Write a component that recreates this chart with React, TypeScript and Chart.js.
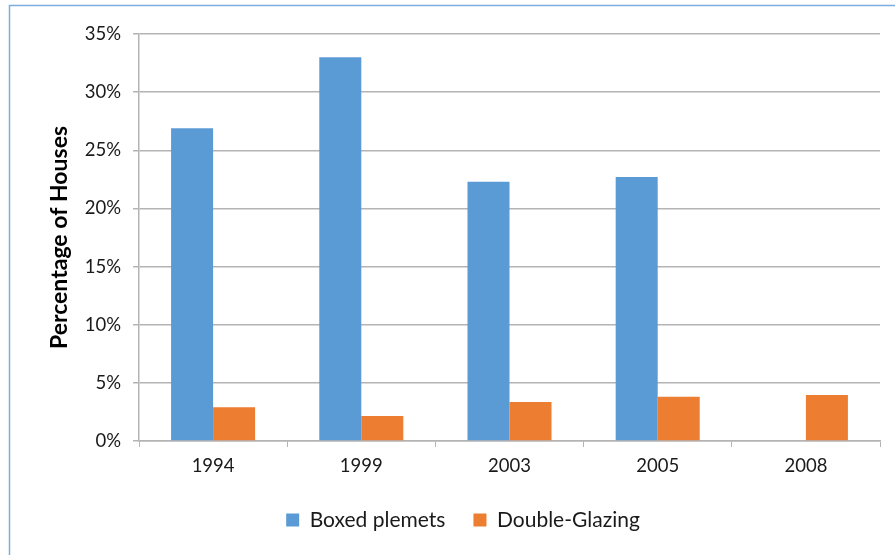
import React, { useEffect, useRef } from "react";
import { Chart, registerables } from "chart.js";

Chart.register(...registerables);

const years = ["1994", "1999", "2003", "2005", "2008"];
const boxedPlemets = [26.9, 33.0, 22.3, 22.7, null];
const doubleGlazing = [2.9, 2.15, 3.35, 3.8, 3.95];
const yTicks = [0, 5, 10, 15, 20, 25, 30, 35];

const FONT = "Lato, 'Open Sans', sans-serif";
const GRID = "#b4b4b4";
const TEXT = "#1a1a1a";

// Thin blue frame along the top and left edges of the chart box
const framePlugin = {
  id: "frame",
  beforeDraw(chart: Chart) {
    const ctx = chart.ctx;
    ctx.save();
    ctx.strokeStyle = "#7aaee0";
    ctx.lineWidth = 1.5;
    ctx.beginPath();
    ctx.moveTo(9.5, chart.height);
    ctx.lineTo(9.5, 5.5);
    ctx.lineTo(chart.width, 5.5);
    ctx.stroke();
    ctx.restore();
  },
};

export default function App() {
  const ref = useRef<HTMLCanvasElement>(null);

  useEffect(() => {
    if (!ref.current) return;
    const chart = new Chart(ref.current, {
      type: "bar",
      data: {
        labels: years,
        datasets: [
          {
            label: "Boxed plemets",
            data: boxedPlemets,
            backgroundColor: "#5b9bd5",
            categoryPercentage: 0.567,
            barPercentage: 1,
          },
          {
            label: "Double-Glazing",
            data: doubleGlazing,
            backgroundColor: "#ed7d31",
            categoryPercentage: 0.567,
            barPercentage: 1,
          },
        ],
      },
      options: {
        animation: false,
        responsive: false,
        layout: { padding: { left: 46, right: 15, top: 34, bottom: 14.5 } },
        plugins: {
          tooltip: { enabled: false },
          legend: {
            position: "bottom",
            labels: {
              boxWidth: 13,
              boxHeight: 13,
              padding: 28,
              color: TEXT,
              font: { family: FONT, size: 21 },
            },
          },
        },
        scales: {
          x: {
            grid: {
              drawOnChartArea: false,
              drawTicks: true,
              tickLength: 6,
              color: GRID,
              offset: true,
            },
            border: { color: GRID, width: 1.5 },
            ticks: { color: TEXT, font: { family: FONT, size: 18.5 }, padding: 8 },
            afterFit(scale: any) {
              scale.height = 40.5;
            },
          },
          y: {
            min: 0,
            max: 35,
            afterBuildTicks(scale: any) {
              scale.ticks = yTicks.map((v) => ({ value: v }));
            },
            grid: { color: GRID, lineWidth: 1.5, tickLength: 6 },
            border: { color: GRID, width: 1.5 },
            ticks: {
              color: TEXT,
              font: { family: FONT, size: 18.5 },
              padding: 12,
              callback: (v: any) => v + "%",
            },
            title: {
              display: true,
              text: "Percentage of Houses",
              color: "#000",
              font: { family: FONT, size: 23, weight: "bold" },
              padding: 0,
            },
            afterFit(scale: any) {
              scale.width = 139 - 46;
            },
          },
        },
      },
      plugins: [framePlugin],
    });
    return () => chart.destroy();
  }, []);

  return (
    <div style={{ position: "fixed", left: 0, top: 0, width: 895, height: 555, background: "#fff" }}>
      <canvas ref={ref} width={895} height={555} />
    </div>
  );
}
